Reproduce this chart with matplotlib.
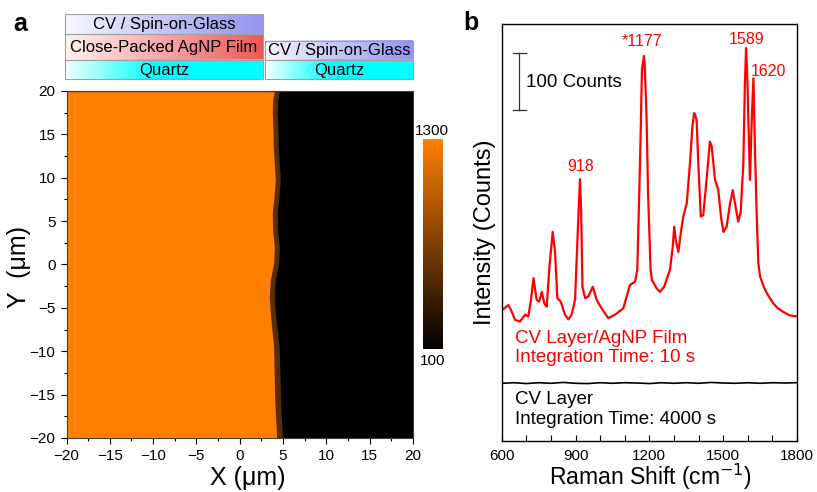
import numpy as np
import matplotlib
matplotlib.use("Agg")
import matplotlib.pyplot as plt
from matplotlib.colors import LinearSegmentedColormap, Normalize
from matplotlib.ticker import MultipleLocator

plt.rcParams['font.family'] = ['Liberation Sans', 'DejaVu Sans']

# ---- panel a data: boundary of the AgNP film (x position vs y) ----
edge_y = [19.92, 18.96, 17.42, 15.49, 13.57, 11.65, 9.73, 7.81, 5.89, 3.97, 2.05,
          0.13, -1.79, -3.71, -5.63, -7.56, -9.48, -11.4, -13.3, -15.2, -17.2, -20]
edge_film = [4.0, 3.81, 3.77, 3.85, 3.88, 4.0, 4.12, 3.96, 3.77, 3.81, 4.0,
             3.92, 3.54, 3.42, 3.54, 3.73, 3.92, 3.96, 4.0, 4.04, 4.12, 4.27]
edge_band = [4.58, 4.39, 4.35, 4.43, 4.46, 4.58, 4.70, 4.54, 4.35, 4.39, 4.58,
             4.50, 4.12, 4.00, 4.14, 4.35, 4.56, 4.62, 4.68, 4.72, 4.78, 4.95]
film_level = 1300
band_level = 520
bare_level = 100
cbar_range = (100, 1300)

# ---- layer stack labels ----
left_stack = ['CV / Spin-on-Glass', 'Close-Packed AgNP Film', 'Quartz']
right_stack = ['CV / Spin-on-Glass', 'Quartz']

# ---- panel b data: Raman spectra ----
wn_red = [600, 610, 627, 641, 654, 674, 695, 708, 719, 729, 742, 752, 763, 773, 783,
          793, 807, 817, 826, 840, 857, 871, 884, 898, 911, 918, 923, 928, 939, 952,
          970, 986, 1006, 1033, 1060, 1094, 1121, 1142, 1151, 1162, 1170, 1178, 1181,
          1186, 1189, 1195, 1205, 1210, 1230, 1243, 1260, 1284, 1295, 1301, 1308, 1318,
          1328, 1338, 1352, 1365, 1375, 1382, 1387, 1392, 1399, 1409, 1419, 1436, 1446,
          1453, 1467, 1480, 1491, 1501, 1514, 1528, 1539, 1548, 1561, 1571, 1582, 1588,
          1593, 1598, 1602, 1609, 1616, 1623, 1629, 1636, 1643, 1650, 1665, 1677, 1690,
          1704, 1720, 1744, 1770, 1785, 1800]
cnt_red = [229, 232, 238, 226, 212, 209, 221, 218, 247, 285, 247, 244, 261, 241, 235,
           300, 366, 329, 250, 244, 221, 213, 221, 247, 387, 458, 400, 270, 250, 253,
           270, 247, 232, 215, 221, 232, 273, 279, 300, 486, 650, 674, 660,
           600, 560, 430, 300, 282, 267, 261, 270, 300, 340, 375, 350, 331,
           365, 393, 416, 486, 550, 574, 570, 562, 486, 393, 395, 474, 524,
           517, 457, 440, 393, 366, 375, 416, 439, 416, 384, 400, 486, 620,
           688, 640, 568, 457, 560, 635, 515, 400, 311, 288, 270, 259, 250,
           241, 233, 226, 220, 219, 218]
wn_black = [600, 650, 700, 750, 800, 850, 900, 950, 1000, 1050, 1100, 1150, 1200, 1250,
            1300, 1350, 1400, 1450, 1500, 1550, 1600, 1650, 1700, 1750, 1800]
cnt_black = [101, 102, 100.5, 102, 101, 102.5, 101, 100.5, 102, 101, 102, 101.5, 100.5, 102,
             101, 102, 101, 102.5, 101.5, 101, 102, 101, 102, 101.5, 102]
peak_labels = ['918', '*1177', '1589', '1620']
peak_pos = [(922, 480), (1172, 699), (1595, 702), (1686, 646)]

fig = plt.figure(figsize=(8.17, 4.92), dpi=100)

# background axes in pixel coordinates for the layer stacks
bg = fig.add_axes([0, 0, 1, 1])
bg.axis('off')

cv_cmap = LinearSegmentedColormap.from_list('cv', ['#f6f6ff', '#9494ee'])
ag_cmap = LinearSegmentedColormap.from_list('ag', ['#fff2f2', '#ee5858'])
qz_cmap = LinearSegmentedColormap.from_list('qz', [(0, '#f4ffff'), (0.45, '#00ffff'), (1, '#00ffff')])
grad = np.linspace(0, 1, 256).reshape(1, -1)

def layer(x0, x1, y0, y1, cmap, label):
    bg.imshow(grad, cmap=cmap, aspect='auto', extent=(x0, x1, y1, y0))
    bg.add_patch(plt.Rectangle((x0, y0), x1 - x0, y1 - y0, fill=False, ec='#a0a0a0', lw=0.8))
    bg.text((x0 + x1) / 2, (y0 + y1) / 2 + 0.5, label, ha='center', va='center', fontsize=12)

rows_left = [(14.3, 34.3), (34.3, 60), (60, 79.3)]
for (y0, y1), lab, cm in zip(rows_left, left_stack, [cv_cmap, ag_cmap, qz_cmap]):
    layer(65, 263, y0, y1, cm, lab)
rows_right = [(40.7, 60), (60, 79.3)]
for (y0, y1), lab, cm in zip(rows_right, right_stack, [cv_cmap, qz_cmap]):
    layer(265, 412.7, y0, y1, cm, lab)
bg.set_xlim(0, 817)
bg.set_ylim(492, 0)

# ---- panel a: map ----
cmap = LinearSegmentedColormap.from_list('blk_org', ['#000000', '#ff8000'])
norm = Normalize(*cbar_range)
axa = fig.add_axes([0.0814, 0.1098, 0.4239, 0.7053])
axa.set_facecolor(cmap(norm(bare_level)))
axa.fill_betweenx(edge_y, -20, edge_band, color=cmap(norm(band_level)), lw=0)
axa.fill_betweenx(edge_y, -20, edge_film, color=cmap(norm(film_level)), lw=0)
axa.set_xlim(-20, 20)
axa.set_ylim(-20, 20)
axa.xaxis.set_major_locator(MultipleLocator(5))
axa.xaxis.set_minor_locator(MultipleLocator(2.5))
axa.yaxis.set_major_locator(MultipleLocator(5))
axa.yaxis.set_minor_locator(MultipleLocator(2.5))
axa.tick_params(which='both', direction='out', labelsize=11, width=0.8, pad=4)
axa.tick_params(which='major', length=4)
axa.tick_params(which='minor', length=2.5)
for s in axa.spines.values():
    s.set_linewidth(0.8)
    s.set_color('#404040')
fig.text(248 / 817, 1 - 478 / 492, 'X (\u03bcm)', fontsize=18, ha='center', va='center')
fig.text(19 / 817, 1 - 267 / 492, 'Y  (\u03bcm)', fontsize=18, ha='center', va='center',
         rotation=90)
fig.text(0.016, 0.952, 'a', fontsize=18, fontweight='bold', va='center')

# colorbar
cax = fig.add_axes([0.5174, 0.2907, 0.024, 0.4268])
cax.imshow(np.linspace(1, 0, 256).reshape(-1, 1), cmap=cmap, aspect='auto',
           extent=(0, 1, 0, 1))
cax.set_xticks([])
cax.set_yticks([])
for s in cax.spines.values():
    s.set_visible(False)
fig.text(0.529, 1 - 131 / 492, str(cbar_range[1]), ha='center', va='center', fontsize=11)
fig.text(0.529, 1 - 361 / 492, str(cbar_range[0]), ha='center', va='center', fontsize=11)

# ---- panel b: spectra ----
axb = fig.add_axes([0.6141, 0.1037, 0.3614, 0.8476])
axb.plot(wn_red, cnt_red, color='#ff0000', lw=1.6)
axb.plot(wn_black, cnt_black, color='black', lw=1.2)
axb.set_xlim(600, 1800)
axb.set_ylim(0, 730)
axb.set_yticks([])
axb.set_xticks([600, 900, 1200, 1500, 1800])
axb.xaxis.set_minor_locator(MultipleLocator(100))
axb.tick_params(which='both', direction='in', labelsize=11, width=0.8, top=False, pad=6)
axb.tick_params(which='major', length=4)
axb.tick_params(which='minor', length=4)
fig.text(650 / 817, 1 - 477 / 492, 'Raman Shift (cm$^{-1}$)', fontsize=16.5,
         ha='center', va='center')
axb.set_ylabel('Intensity (Counts)', fontsize=17, labelpad=4)
for s in axb.spines.values():
    s.set_linewidth(1.0)

for lab, (x, y) in zip(peak_labels, peak_pos):
    axb.text(x, y, lab, color='#ff0000', fontsize=11.5, ha='center', va='center')

# scale bar (100 counts)
axb.plot([672, 672], [580, 680], color='#333333', lw=0.9)
axb.plot([645, 700], [580, 580], color='#333333', lw=0.9)
axb.plot([645, 700], [680, 680], color='#333333', lw=0.9)
axb.text(697, 627, '100 Counts', fontsize=13.5, va='center')

axb.text(656, 180, 'CV Layer/AgNP Film', color='#ff0000', fontsize=13.5, va='center')
axb.text(656, 146, 'Integration Time: 10 s', color='#ff0000', fontsize=13.5, va='center')
axb.text(656, 72, 'CV Layer', color='black', fontsize=13.5, va='center')
axb.text(656, 37, 'Integration Time: 4000 s', color='black', fontsize=13.5, va='center')
fig.text(0.567, 0.954, 'b', fontsize=18, fontweight='bold', va='center')

fig.savefig('out.png', dpi=100)
